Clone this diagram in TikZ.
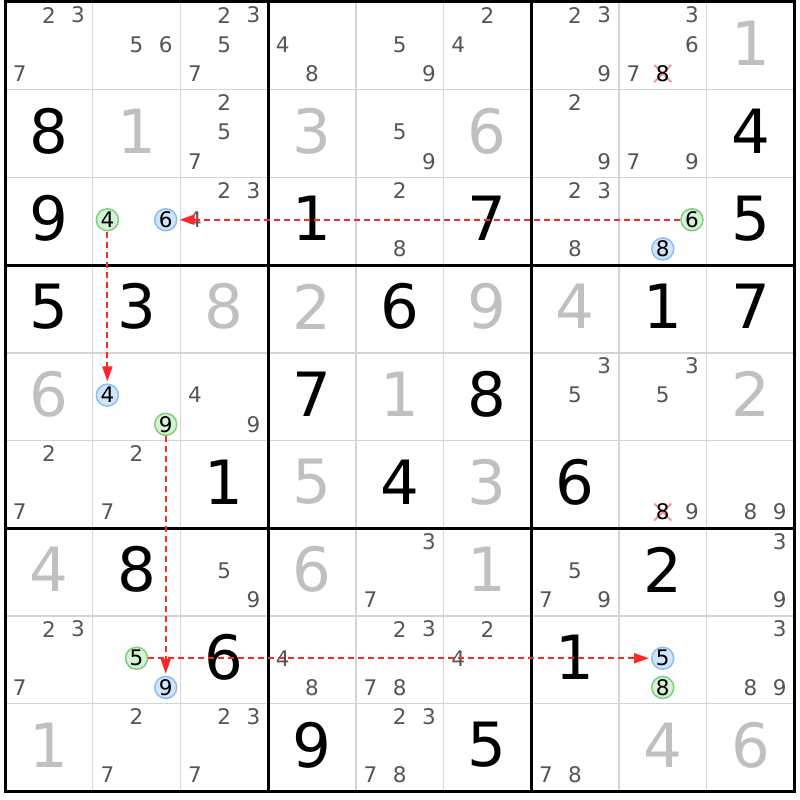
\documentclass[tikz,border=0pt]{standalone}
\usepackage{fontspec}
\setmainfont{DejaVu Sans}
\usetikzlibrary{arrows.meta}

\definecolor{candgray}{RGB}{85,85,85}
\definecolor{solvedgray}{RGB}{192,192,192}
\definecolor{thingray}{RGB}{212,212,212}
\definecolor{ringgreen}{RGB}{125,208,125}
\definecolor{fillgreen}{RGB}{214,241,214}
\definecolor{ringblue}{RGB}{140,190,242}
\definecolor{fillblue}{RGB}{208,228,250}
\definecolor{chainred}{RGB}{250,40,40}
\definecolor{strikered}{RGB}{245,150,150}

\tikzset{
	clue/.style={inner sep=0pt, font=\fontsize{61}{61}\selectfont, text=black},
	solved/.style={clue, text=solvedgray},
	pencil/.style={inner sep=0pt, font=\fontsize{21.5}{21.5}\selectfont, text=candgray},
	greenring/.style={pencil, text=black, shape=circle, minimum size=22pt, fill=fillgreen, draw=ringgreen, line width=1.5pt},
	bluering/.style={greenring, fill=fillblue, draw=ringblue},
	struck/.style={pencil, text=black},
	chain/.style={color=chainred, line width=1.8pt, dash pattern=on 6pt off 4pt, -{Triangle[length=15pt,width=10pt]}, shorten >=2pt},
}

% cell (row, col) has its centre at (5+(col-0.5)*87.7, 2+(row-0.5)*87.7)
\newcommand{\cluecell}[3]{\node[clue] (r#1c#2) at ({5+(#2-0.5)*87.7},{2+(#1-0.5)*87.7-2.5}) {#3};}
\newcommand{\solvedcell}[3]{\node[solved] (r#1c#2) at ({5+(#2-0.5)*87.7},{2+(#1-0.5)*87.7-2.5}) {#3};}
\newcommand{\pencilcell}[3]{%
	\foreach \d in {#3}{%
		\pgfmathtruncatemacro{\subc}{mod(\d-1,3)}%
		\pgfmathtruncatemacro{\subr}{(\d-1)/3}%
		\node[pencil] (r#1c#2-\d) at ({5+(#2-0.5)*87.7+(\subc-1)*29.2},{2+(#1-0.5)*87.7+(\subr-1)*29.2-1.5}) {\d};
	}}
\newcommand{\ringcand}[4]{%
	\pgfmathtruncatemacro{\subc}{mod(#3-1,3)}%
	\pgfmathtruncatemacro{\subr}{(#3-1)/3}%
	\node[#4] (r#1c#2-#3) at ({5+(#2-0.5)*87.7+(\subc-1)*29.2},{2+(#1-0.5)*87.7+(\subr-1)*29.2-1.5}) {#3};}
\newcommand{\struckcand}[3]{%
	\pgfmathtruncatemacro{\subc}{mod(#3-1,3)}%
	\pgfmathtruncatemacro{\subr}{(#3-1)/3}%
	\coordinate (x#1c#2) at ({5+(#2-0.5)*87.7+(\subc-1)*29.2},{2+(#1-0.5)*87.7+(\subr-1)*29.2-1.5});
	\draw[strikered, line width=2pt] (x#1c#2) ++(-8.5,-8.5) -- ++(17,17) (x#1c#2) ++(8.5,-8.5) -- ++(-17,17);
	\node[struck] (r#1c#2-#3) at (x#1c#2) {#3};}

\begin{document}
\begin{tikzpicture}[x=1pt, y=-1pt]
	\useasboundingbox[fill=white] (0,0) rectangle (800,800);

	% grid
	\foreach \i in {1,2,4,5,7,8} {
		\draw[thingray, line width=1.5pt] ({5+\i*87.7},2) -- ({5+\i*87.7},791.3);
		\draw[thingray, line width=1.5pt] (5,{2+\i*87.7}) -- (794.3,{2+\i*87.7});
	}
	\foreach \i in {3,6} {
		\draw[black, line width=3pt] ({5+\i*87.7},2) -- ({5+\i*87.7},791.3);
		\draw[black, line width=3pt] (5,{2+\i*87.7}) -- (794.3,{2+\i*87.7});
	}
	\draw[black, line width=3pt] (5,2) rectangle (794.3,791.3);

	% row 1
	\pencilcell{1}{1}{2,3,7}
	\pencilcell{1}{2}{5,6}
	\pencilcell{1}{3}{2,3,5,7}
	\pencilcell{1}{4}{4,8}
	\pencilcell{1}{5}{5,9}
	\pencilcell{1}{6}{2,4}
	\pencilcell{1}{7}{2,3,9}
	\pencilcell{1}{8}{3,6,7}
	\struckcand{1}{8}{8}
	\solvedcell{1}{9}{1}

	% row 2
	\cluecell{2}{1}{8}
	\solvedcell{2}{2}{1}
	\pencilcell{2}{3}{2,5,7}
	\solvedcell{2}{4}{3}
	\pencilcell{2}{5}{5,9}
	\solvedcell{2}{6}{6}
	\pencilcell{2}{7}{2,9}
	\pencilcell{2}{8}{7,9}
	\cluecell{2}{9}{4}

	% row 3
	\cluecell{3}{1}{9}
	\ringcand{3}{2}{4}{greenring}
	\ringcand{3}{2}{6}{bluering}
	\pencilcell{3}{3}{2,3,4}
	\cluecell{3}{4}{1}
	\pencilcell{3}{5}{2,8}
	\cluecell{3}{6}{7}
	\pencilcell{3}{7}{2,3,8}
	\ringcand{3}{8}{6}{greenring}
	\ringcand{3}{8}{8}{bluering}
	\cluecell{3}{9}{5}

	% row 4
	\cluecell{4}{1}{5}
	\cluecell{4}{2}{3}
	\solvedcell{4}{3}{8}
	\solvedcell{4}{4}{2}
	\cluecell{4}{5}{6}
	\solvedcell{4}{6}{9}
	\solvedcell{4}{7}{4}
	\cluecell{4}{8}{1}
	\cluecell{4}{9}{7}

	% row 5
	\solvedcell{5}{1}{6}
	\ringcand{5}{2}{4}{bluering}
	\ringcand{5}{2}{9}{greenring}
	\pencilcell{5}{3}{4,9}
	\cluecell{5}{4}{7}
	\solvedcell{5}{5}{1}
	\cluecell{5}{6}{8}
	\pencilcell{5}{7}{3,5}
	\pencilcell{5}{8}{3,5}
	\solvedcell{5}{9}{2}

	% row 6
	\pencilcell{6}{1}{2,7}
	\pencilcell{6}{2}{2,7}
	\cluecell{6}{3}{1}
	\solvedcell{6}{4}{5}
	\cluecell{6}{5}{4}
	\solvedcell{6}{6}{3}
	\cluecell{6}{7}{6}
	\struckcand{6}{8}{8}
	\pencilcell{6}{8}{9}
	\pencilcell{6}{9}{8,9}

	% row 7
	\solvedcell{7}{1}{4}
	\cluecell{7}{2}{8}
	\pencilcell{7}{3}{5,9}
	\solvedcell{7}{4}{6}
	\pencilcell{7}{5}{3,7}
	\solvedcell{7}{6}{1}
	\pencilcell{7}{7}{5,7,9}
	\cluecell{7}{8}{2}
	\pencilcell{7}{9}{3,9}

	% row 8
	\pencilcell{8}{1}{2,3,7}
	\ringcand{8}{2}{5}{greenring}
	\ringcand{8}{2}{9}{bluering}
	\cluecell{8}{3}{6}
	\pencilcell{8}{4}{4,8}
	\pencilcell{8}{5}{2,3,7,8}
	\pencilcell{8}{6}{2,4}
	\cluecell{8}{7}{1}
	\ringcand{8}{8}{5}{bluering}
	\ringcand{8}{8}{8}{greenring}
	\pencilcell{8}{9}{3,8,9}

	% row 9
	\solvedcell{9}{1}{1}
	\pencilcell{9}{2}{2,7}
	\pencilcell{9}{3}{2,3,7}
	\cluecell{9}{4}{9}
	\pencilcell{9}{5}{2,3,7,8}
	\cluecell{9}{6}{5}
	\pencilcell{9}{7}{7,8}
	\solvedcell{9}{8}{4}
	\solvedcell{9}{9}{6}

	% chain
	\path [chain] (r3c8-6) edge (r3c2-6);
	\path [chain] (r3c2-4) edge (r5c2-4);
	\path [chain] (r5c2-9) edge (r8c2-9);
	\path [chain] (r8c2-5) edge (r8c8-5);
\end{tikzpicture}
\end{document}
